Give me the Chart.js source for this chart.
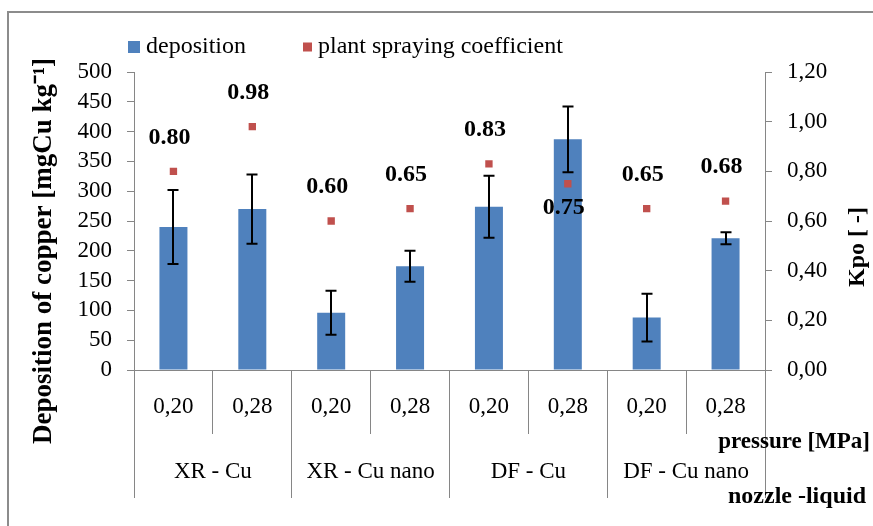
<!DOCTYPE html>
<html>
<head>
<meta charset="utf-8">
<script src="https://cdn.jsdelivr.net/npm/chart.js@4/dist/chart.umd.min.js"></script>
<style>
html,body{margin:0;padding:0;background:#fff;overflow:hidden}
#wrap{width:873px;height:526px;position:relative}
</style>
</head>
<body>
<div id="wrap"><canvas id="c"></canvas></div>
<script>
// ---- data ----
const pressureLabels = ['0,20', '0,28', '0,20', '0,28', '0,20', '0,28', '0,20', '0,28'];
const nozzleLiquidLabels = ['XR - Cu', 'XR - Cu nano', 'DF - Cu', 'DF - Cu nano'];
const deposition = [240, 270, 96, 174, 274, 387, 88, 221];
const depositionError = [62, 58, 37, 26, 52, 55, 40, 10];
const kpo = [0.80, 0.98, 0.60, 0.65, 0.83, 0.75, 0.65, 0.68];

const SERIF = "'Liberation Serif','Times New Roman',serif";
const GRAY = '#868686';
const BLUE = '#4F81BD';
const RED = '#C0504D';

const deco = {
  id: 'deco',
  beforeDraw(chart) {
    const ctx = chart.ctx;
    ctx.save();
    ctx.fillStyle = '#fff';
    ctx.fillRect(0, 0, chart.width, chart.height);
    ctx.strokeStyle = '#8c8c8c';
    ctx.lineWidth = 2;
    ctx.strokeRect(8, 12, chart.width + 20, chart.height + 20);
    ctx.restore();
  },
  afterDatasetDraw(chart, args) {
    if (args.index !== 0) return;
    const ctx = chart.ctx;
    const ys = chart.scales.y;
    const meta = chart.getDatasetMeta(0);
    ctx.save();
    ctx.strokeStyle = '#000';
    ctx.lineWidth = 2;
    meta.data.forEach((bar, i) => {
      const v = deposition[i], e = depositionError[i];
      const yt = ys.getPixelForValue(v + e);
      const yb = ys.getPixelForValue(v - e);
      const x = Math.round(bar.x);
      ctx.beginPath();
      ctx.moveTo(x, yt); ctx.lineTo(x, yb);
      ctx.moveTo(x - 5.5, yt); ctx.lineTo(x + 5.5, yt);
      ctx.moveTo(x - 5.5, yb); ctx.lineTo(x + 5.5, yb);
      ctx.stroke();
    });
    ctx.restore();
  },
  afterDraw(chart, args, opts) {
    const ctx = chart.ctx;
    ctx.save();
    // legend
    ctx.textBaseline = 'middle';
    ctx.textAlign = 'left';
    ctx.font = '24px ' + SERIF;
    ctx.fillStyle = '#000';
    let lx = 128;
    const ly = 47;
    chart.data.datasets.forEach((ds, i) => {
      const s = i === 0 ? 12 : 9;
      ctx.fillStyle = ds.backgroundColor;
      ctx.fillRect(lx, ly - s / 2, s, s);
      lx += s + 6;
      ctx.fillStyle = '#000';
      ctx.fillText(ds.label, lx, ly);
      lx += ctx.measureText(ds.label).width + 57;
    });
    // data labels
    const meta = chart.getDatasetMeta(1);
    ctx.font = 'bold 24px ' + SERIF;
    ctx.textAlign = 'center';
    meta.data.forEach((pt, i) => {
      const below = opts.labelBelow.includes(i);
      ctx.fillText(kpo[i].toFixed(2), pt.x - 4, below ? pt.y + 24 : pt.y - 34);
    });
    // axis titles
    ctx.font = 'bold 23px ' + SERIF;
    ctx.textAlign = 'right';
    ctx.fillText('pressure [MPa]', 870, 442);
    ctx.font = 'bold 24px ' + SERIF;
    ctx.fillText('nozzle -liquid', 866, 497);
    ctx.textAlign = 'center';
    ctx.save();
    ctx.translate(44, 251);
    ctx.rotate(-Math.PI / 2);
    ctx.font = 'bold 27px ' + SERIF;
    ctx.fillText('Deposition of copper [mgCu kg\u207B\u00B9]', 0, 0);
    ctx.restore();
    ctx.save();
    ctx.translate(858, 247);
    ctx.rotate(-Math.PI / 2);
    ctx.font = 'bold 24px ' + SERIF;
    ctx.fillText('Kpo [ -]', 0, 0);
    ctx.restore();
    ctx.restore();
  }
};

const tickFont = { family: SERIF, size: 23 };

new Chart(document.getElementById('c'), {
  type: 'bar',
  data: {
    labels: pressureLabels,
    datasets: [
      {
        type: 'bar',
        label: 'deposition',
        data: deposition,
        backgroundColor: BLUE,
        barPercentage: 0.355,
        categoryPercentage: 1,
        xAxisID: 'x',
        yAxisID: 'y',
        order: 2
      },
      {
        type: 'line',
        label: 'plant spraying coefficient',
        data: kpo,
        showLine: false,
        pointStyle: 'rect',
        pointRadius: 5.2,
        pointBorderWidth: 0,
        backgroundColor: RED,
        borderColor: RED,
        xAxisID: 'x',
        yAxisID: 'y1',
        order: 1
      }
    ]
  },
  options: {
    responsive: true,
    maintainAspectRatio: false,
    animation: false,
    devicePixelRatio: 1,
    layout: { padding: { left: 64, right: 34, top: 72, bottom: 26 } },
    plugins: {
      legend: { display: false },
      tooltip: { enabled: false },
      deco: { labelBelow: [5] }
    },
    scales: {
      x: {
        type: 'category',
        position: 'bottom',
        offset: true,
        weight: 0,
        grid: { offset: true, drawOnChartArea: false, tickLength: 64, color: GRAY },
        border: { display: true, color: GRAY },
        ticks: { color: '#000', font: tickFont, padding: -41, autoSkip: false, maxRotation: 0 },
        afterFit(s) { s.height = 52; }
      },
      x2: {
        type: 'category',
        position: 'bottom',
        labels: nozzleLiquidLabels,
        offset: true,
        weight: 1,
        grid: { offset: true, drawOnChartArea: false, tickLength: 76, color: GRAY },
        border: { display: false },
        ticks: { color: '#000', font: tickFont, padding: -40, autoSkip: false, maxRotation: 0 },
        afterFit(s) { s.height = 78; }
      },
      y: {
        position: 'left',
        min: 0,
        max: 500,
        ticks: { stepSize: 50, color: '#000', font: tickFont, padding: 15, autoSkip: false },
        grid: { drawOnChartArea: false, tickLength: 7, color: GRAY },
        border: { display: true, color: GRAY },
        afterFit(s) { s.width = 70; }
      },
      y1: {
        position: 'right',
        min: 0,
        max: 1.2,
        ticks: {
          stepSize: 0.2, color: '#000', font: tickFont, padding: 15, autoSkip: false,
          callback: v => Number(v).toFixed(2).replace('.', ',')
        },
        grid: { drawOnChartArea: false, tickLength: 7, color: GRAY },
        border: { display: true, color: GRAY },
        afterFit(s) { s.width = 74; }
      }
    }
  },
  plugins: [deco]
});
</script>
</body>
</html>
